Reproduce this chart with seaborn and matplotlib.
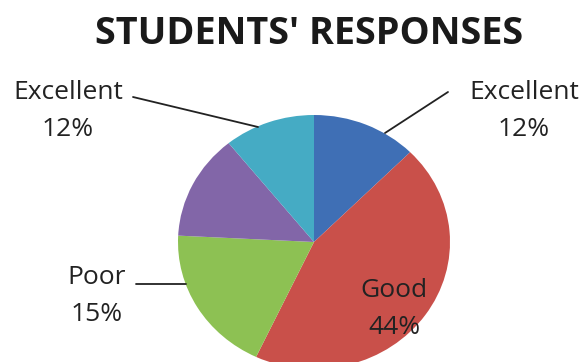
import matplotlib
matplotlib.use("Agg")
import matplotlib.pyplot as plt
import seaborn as sns

# parts du camembert (sens horaire depuis le haut)
slices = ["Excellent", "Good", "Poor", "Fair", "Excellent 2"]
shares = [12.5, 44.5, 18.8, 13.4, 10.8]
colours = ["#3F6FB5", "#C9504A", "#8DC153", "#8266A8", "#45ABC4"]

# etiquettes affichees
label_text = ["Excellent\n12%", "Good\n44%", "Poor\n15%", "Excellent\n12%"]

sns.set_theme(style="white")
plt.rcParams["font.family"] = ["Open Sans", "DejaVu Sans"]

W, H = 586, 362
fig = plt.figure(figsize=(W / 100, H / 100), dpi=100)
ax = fig.add_axes([0, 0, 1, 1])

# axes en pixels (y vers le haut), un peu ecrase en hauteur comme l'original
sy = 136 / 127

ax.pie(shares, colors=sns.color_palette(colours), startangle=90,
       counterclock=False, radius=136, center=(314, (H - 242) * sy),
       wedgeprops=dict(linewidth=0))
ax.set_aspect("auto")
ax.set_xlim(0, W)
ax.set_ylim(0, H * sy)
ax.axis("off")


def px(x, y):
    return x / W, 1 - y / H


fig.text(*px(309, 34), "STUDENTS' RESPONSES", ha="center", va="center",
         fontsize=27.3, fontweight="bold", color="#1a1a1a")

txt = dict(fontsize=19, color="#222222", ha="center", va="center",
           linespacing=1.6)
fig.text(*px(524, 111), label_text[0], **txt)
fig.text(*px(394, 309), label_text[1], **txt)
fig.text(*px(97, 296), label_text[2], **txt)
fig.text(*px(68, 111), label_text[3], **txt)

# lignes de rappel
for (x0, y0), (x1, y1) in [((385, 133), (448, 92)),
                           ((133, 97), (258, 127)),
                           ((136, 284), (186, 284))]:
    a, b = px(x0, y0)
    c, d = px(x1, y1)
    fig.add_artist(plt.Line2D([a, c], [b, d], transform=fig.transFigure,
                              color="#222222", linewidth=1.3))

fig.savefig("out.png", dpi=100)
